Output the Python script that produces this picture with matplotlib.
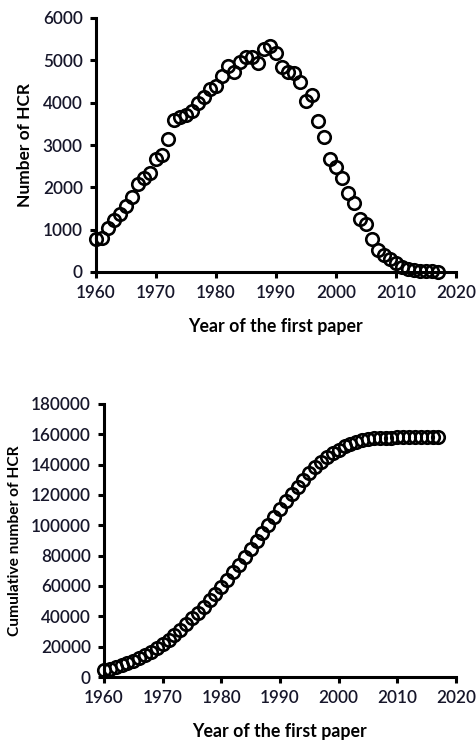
import matplotlib
matplotlib.use("Agg")
import matplotlib.pyplot as plt

years = list(range(1960, 2018))
annual_hcr = [780, 800, 1030, 1220, 1370, 1550, 1760, 2070, 2210, 2350,
              2660, 2760, 3150, 3600, 3660, 3700, 3800, 4000, 4130, 4330,
              4400, 4620, 4860, 4720, 4960, 5080, 5070, 4940, 5270, 5330,
              5170, 4840, 4720, 4700, 4480, 4050, 4180, 3570, 3190, 2680,
              2480, 2220, 1860, 1620, 1250, 1130, 770, 520, 400, 300,
              210, 120, 60, 40, 30, 20, 20, 10]
cumulative_hcr = [4800, 5600, 6600, 7800, 9200, 10700, 12500, 14600, 16800, 19100,
                  21800, 24500, 27700, 31300, 34900, 38600, 42400, 46400, 50500, 54900,
                  59300, 64000, 69000, 74000, 79200, 84400, 89600, 94800, 100200, 105700,
                  111000, 116000, 120900, 125600, 130100, 134200, 138300, 141800, 144900, 147600,
                  150000, 152000, 153700, 155000, 156000, 156800, 157300, 157600, 157800, 157900,
                  158000, 158000, 158000, 158000, 158000, 158000, 158000, 158000]

xticks = [1960, 1970, 1980, 1990, 2000, 2010, 2020]
yticks_top = [0, 1000, 2000, 3000, 4000, 5000, 6000]
yticks_bottom = list(range(0, 180001, 20000))

plt.rcParams['font.family'] = ['Lato', 'DejaVu Sans']

fig = plt.figure(figsize=(4.77, 7.40), dpi=100)
ax1 = fig.add_axes([96/477, 1 - 272/740, (456 - 96)/477, (272 - 18)/740])
ax2 = fig.add_axes([104/477, 1 - 677/740, (456 - 104)/477, (677 - 404)/740])

def style(ax, yticks, ylabel, series, ylabel_size, ylabel_pad):
    ax.plot(years, series, linestyle='none', marker='o', markersize=9,
            markerfacecolor='none', markeredgecolor='black', markeredgewidth=1.9,
            clip_on=False)
    ax.set_xlim(1960, 2020)
    ax.set_ylim(yticks[0], yticks[-1])
    ax.set_xticks(xticks)
    ax.set_yticks(yticks)
    ax.set_xticklabels([str(t) for t in xticks])
    ax.set_yticklabels([str(t) for t in yticks])
    for s in ['top', 'right']:
        ax.spines[s].set_visible(False)
    for s in ['left', 'bottom']:
        ax.spines[s].set_linewidth(2.2)
        ax.spines[s].set_color('black')
    ax.tick_params(axis='both', direction='out', length=4.5, width=2.2,
                   labelsize=12.3, colors='black', labelcolor='#16162a', pad=5)
    for lab in ax.get_xticklabels() + ax.get_yticklabels():
        lab.set_fontweight('semibold')
    ax.set_xlabel('Year of the first paper', fontsize=12.8, fontweight='bold', labelpad=12)
    ax.set_ylabel(ylabel, fontsize=ylabel_size, fontweight='bold', labelpad=ylabel_pad)

style(ax1, yticks_top, 'Number of HCR', annual_hcr, 12.5, 7)
style(ax2, yticks_bottom, 'Cumulative number of HCR', cumulative_hcr, 11.2, 6)

fig.savefig('out.png', dpi=100)
